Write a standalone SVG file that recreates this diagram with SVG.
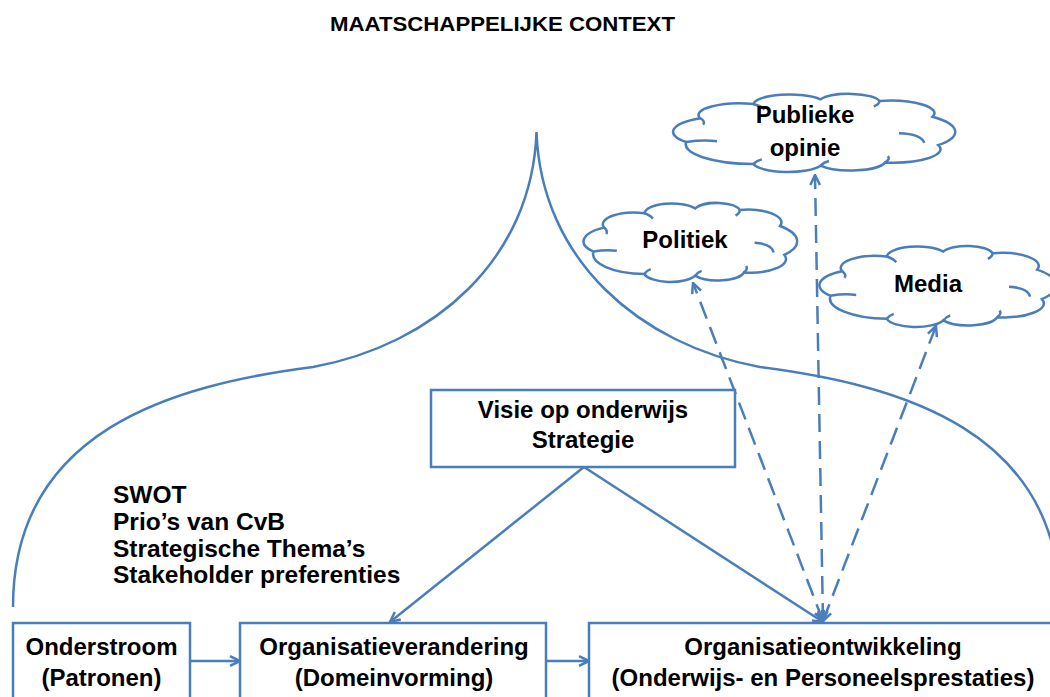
<svg xmlns="http://www.w3.org/2000/svg" xmlns:xlink="http://www.w3.org/1999/xlink" width="1050" height="697" viewBox="0 0 1050 697">
  <style>
    .ln { fill: none; stroke: #4A7EBB; stroke-width: 2.5; }
    .dash { stroke-dasharray: 18 9; }
    .box { fill: #FFFFFF; stroke: #4A7EBB; stroke-width: 2.5; }
    .cloud { fill: #FFFFFF; stroke: #4A7EBB; stroke-width: 2.5; }
    .t { font-family: "Liberation Sans", Arial, sans-serif; font-weight: bold; font-size: 24px; fill: #000000; text-anchor: middle; }
    .l { text-anchor: start; font-size: 24.5px; }
  </style>
  <defs>
    <!-- open "V" arrowhead -->
    <marker id="arrow" viewBox="0 0 12 12" refX="11" refY="6" markerWidth="12" markerHeight="12" markerUnits="userSpaceOnUse" orient="auto-start-reverse">
      <path d="M1,1.2 L11,6 L1,10.8" fill="none" stroke="#4A7EBB" stroke-width="2.5" stroke-dasharray="none"/>
    </marker>
    <!-- cloud outline in a 100 x 100 box, stretched per use -->
    <g id="cloudShape">
      <path class="cloud" vector-effect="non-scaling-stroke" d="M4,62 A20,20 0 0 1 9,32 A14.7,14.7 0 0 1 28,14 A13,13 0 0 1 52,8 A11,11 0 0 1 73,10 A15.9,15.9 0 0 1 92,30 A26.6,26.6 0 0 1 94,66 A17,17 0 0 1 75,88 A12.5,12.5 0 0 1 52,92 A12.6,12.6 0 0 1 28,90 A25,25 0 0 1 4,62 Z"/>
      <path class="ln" vector-effect="non-scaling-stroke" d="M4,62 Q10,59 15,61 M9,32 Q11,36 10,40 M28,14 Q31,17 32,21 M73,10 Q73,14 71,17 M80,51 Q88,52 89,63 M75,88 Q77,84 76,80 M52,92 Q53,88 55,86 M28,90 Q29,86 31,84"/>
    </g>
  </defs>

  <rect width="1050" height="697" fill="#FFFFFF"/>

  <!-- onion-dome outline of the societal context -->
  <path class="ln" d="M13,607 C13,430 173,385 313,367 C433,345 532,260 536.5,132 C541,260 640,345 760,367 C900,385 1060,430 1060,607"/>

  <text class="t" x="502.5" y="31" style="font-size:20px" textLength="345" lengthAdjust="spacingAndGlyphs">MAATSCHAPPELIJKE CONTEXT</text>

  <g id="swot">
    <text class="t l" x="113" y="503">SWOT</text>
    <text class="t l" x="113" y="530">Prio’s van CvB</text>
    <text class="t l" x="113" y="557">Strategische Thema’s</text>
    <text class="t l" x="113" y="583">Stakeholder preferenties</text>
  </g>

  <g id="connectors">
    <line class="ln" x1="190" y1="661" x2="240" y2="661" marker-end="url(#arrow)"/>
    <line class="ln" x1="546" y1="661" x2="589" y2="661" marker-end="url(#arrow)"/>
    <line class="ln" x1="584" y1="467" x2="390" y2="622" marker-end="url(#arrow)"/>
    <line class="ln" x1="584" y1="467" x2="823" y2="622" marker-end="url(#arrow)"/>
    <line class="ln dash" x1="823" y1="621" x2="815" y2="175" marker-start="url(#arrow)" marker-end="url(#arrow)"/>
    <line class="ln dash" x1="823" y1="621" x2="693" y2="283" marker-start="url(#arrow)" marker-end="url(#arrow)"/>
    <line class="ln dash" x1="823" y1="621" x2="936" y2="326" marker-start="url(#arrow)" marker-end="url(#arrow)"/>
  </g>

  <g id="publieke-opinie">
    <use xlink:href="#cloudShape" transform="translate(675,93) scale(2.8,0.79)"/>
    <text class="t" x="805" y="123">Publieke</text>
    <text class="t" x="805" y="156">opinie</text>
  </g>

  <g id="politiek">
    <use xlink:href="#cloudShape" transform="translate(585,202) scale(2.12,0.8)"/>
    <text class="t" x="685" y="248">Politiek</text>
  </g>

  <g id="media">
    <use xlink:href="#cloudShape" transform="translate(821,245) scale(2.35,0.82)"/>
    <text class="t" x="928" y="292">Media</text>
  </g>

  <g id="visie">
    <rect class="box" x="431" y="390" width="304" height="77"/>
    <text class="t" x="583" y="418">Visie op onderwijs</text>
    <text class="t" x="583" y="448">Strategie</text>
  </g>

  <g id="onderstroom">
    <rect class="box" x="13" y="623" width="177" height="90"/>
    <text class="t" x="101.5" y="655">Onderstroom</text>
    <text class="t" x="101.5" y="686">(Patronen)</text>
  </g>

  <g id="organisatieverandering">
    <rect class="box" x="240" y="623" width="306" height="90"/>
    <text class="t" x="394" y="655">Organisatieverandering</text>
    <text class="t" x="394" y="686">(Domeinvorming)</text>
  </g>

  <g id="organisatieontwikkeling">
    <rect class="box" x="589" y="623" width="470" height="90"/>
    <text class="t" x="823" y="655">Organisatieontwikkeling</text>
    <text class="t" x="823" y="686">(Onderwijs- en Personeelsprestaties)</text>
  </g>
</svg>
